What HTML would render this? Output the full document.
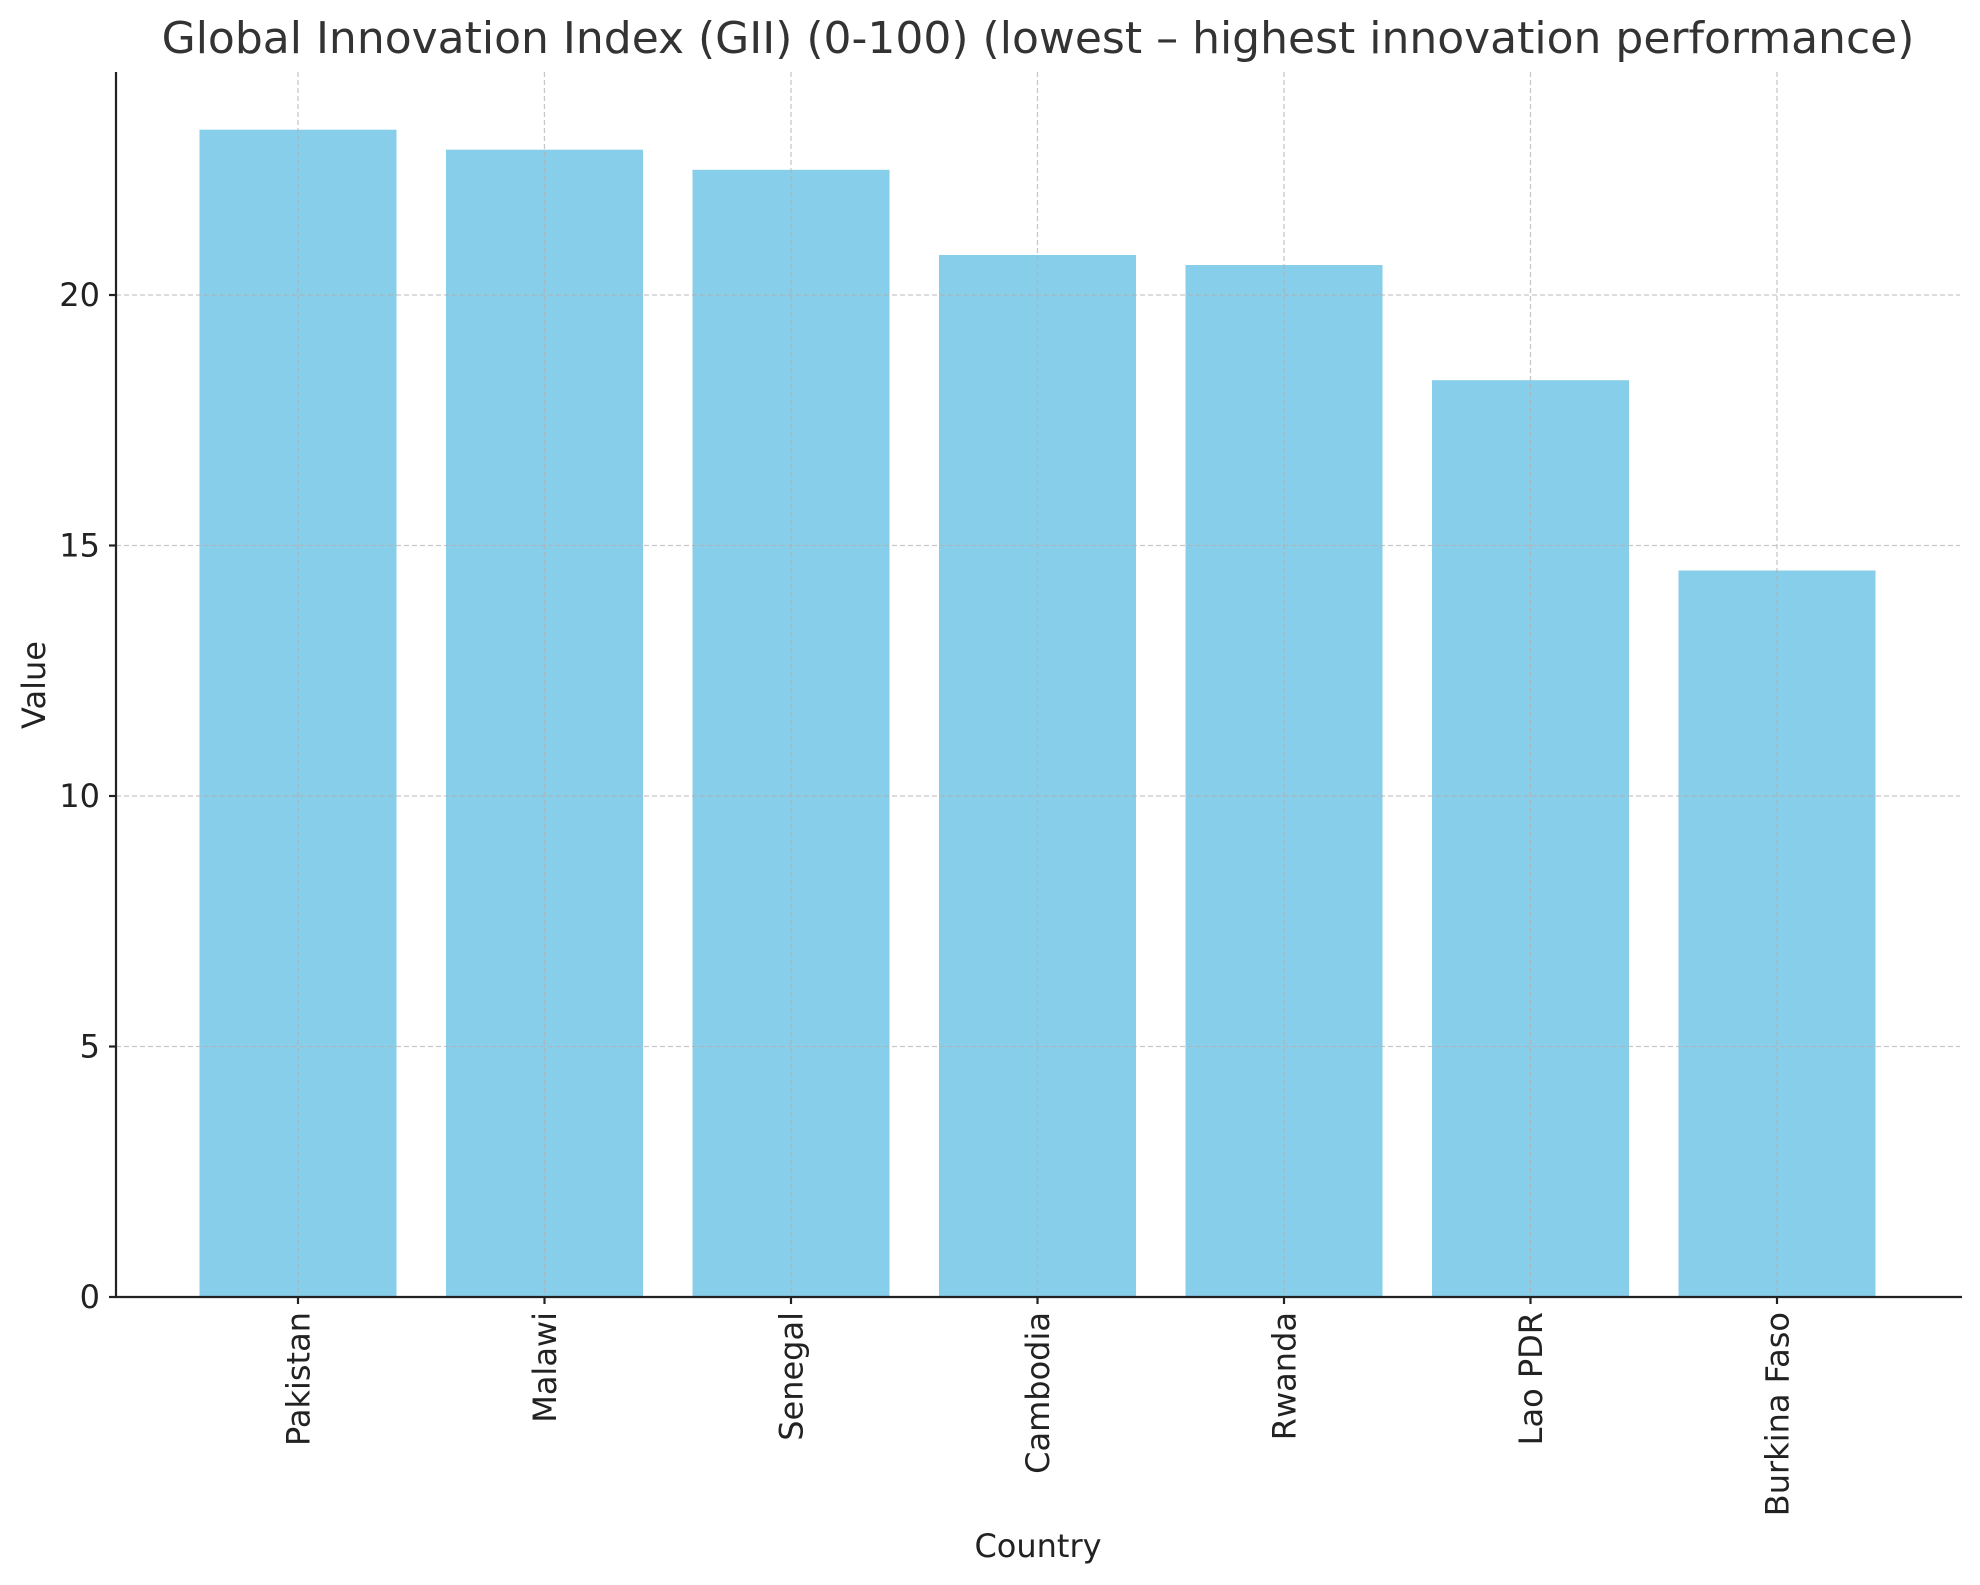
<!DOCTYPE html>
<html><head><meta charset="utf-8"><style>html,body{margin:0;padding:0;background:#fff}</style></head>
<body>
<svg width="1980" height="1580" xmlns="http://www.w3.org/2000/svg" font-family="DejaVu Sans, Liberation Sans, sans-serif">
<rect width="1980" height="1580" fill="#fff"/>
<g fill="#87ceeb">
<rect x="199.5" y="129.7" width="197" height="1167.3"/>
<rect x="446" y="149.7" width="197" height="1147.3"/>
<rect x="692.5" y="169.8" width="197" height="1127.2"/>
<rect x="939" y="255" width="197" height="1042"/>
<rect x="1185.5" y="265" width="197" height="1032"/>
<rect x="1432" y="380.2" width="197" height="916.8"/>
<rect x="1678.5" y="570.5" width="197" height="726.5"/>
</g>
<g stroke="#b0b0b0" stroke-opacity="0.7" stroke-width="1.3" stroke-dasharray="5,3">
<line x1="116" x2="1960" y1="1046.5" y2="1046.5"/>
<line x1="116" x2="1960" y1="796" y2="796"/>
<line x1="116" x2="1960" y1="545.5" y2="545.5"/>
<line x1="116" x2="1960" y1="295" y2="295"/>
<line x1="298" x2="298" y1="72" y2="1297"/>
<line x1="544.5" x2="544.5" y1="72" y2="1297"/>
<line x1="791" x2="791" y1="72" y2="1297"/>
<line x1="1037.5" x2="1037.5" y1="72" y2="1297"/>
<line x1="1284" x2="1284" y1="72" y2="1297"/>
<line x1="1530.5" x2="1530.5" y1="72" y2="1297"/>
<line x1="1777" x2="1777" y1="72" y2="1297"/>
</g>
<g stroke="#222" stroke-width="2.2">
<line x1="116" y1="72" x2="116" y2="1298"/>
<line x1="115" y1="1297" x2="1962" y2="1297"/>
<line x1="109" x2="116" y1="1297" y2="1297"/>
<line x1="109" x2="116" y1="1046.5" y2="1046.5"/>
<line x1="109" x2="116" y1="796" y2="796"/>
<line x1="109" x2="116" y1="545.5" y2="545.5"/>
<line x1="109" x2="116" y1="295" y2="295"/>
<line x1="298" x2="298" y1="1297" y2="1304"/>
<line x1="544.5" x2="544.5" y1="1297" y2="1304"/>
<line x1="791" x2="791" y1="1297" y2="1304"/>
<line x1="1037.5" x2="1037.5" y1="1297" y2="1304"/>
<line x1="1284" x2="1284" y1="1297" y2="1304"/>
<line x1="1530.5" x2="1530.5" y1="1297" y2="1304"/>
<line x1="1777" x2="1777" y1="1297" y2="1304"/>
</g>
<g fill="#222" font-size="32" text-anchor="end">
<text x="100" y="1308">0</text>
<text x="100" y="1057.5">5</text>
<text x="100" y="807">10</text>
<text x="100" y="556.5">15</text>
<text x="100" y="306">20</text>
</g>
<g fill="#222" font-size="32" text-anchor="end">
<text transform="translate(309.5,1312) rotate(-90)">Pakistan</text>
<text transform="translate(556,1312) rotate(-90)">Malawi</text>
<text transform="translate(802.5,1312) rotate(-90)">Senegal</text>
<text transform="translate(1049,1312) rotate(-90)">Cambodia</text>
<text transform="translate(1295.5,1312) rotate(-90)">Rwanda</text>
<text transform="translate(1542,1312) rotate(-90)">Lao PDR</text>
<text transform="translate(1788.5,1312) rotate(-90)">Burkina Faso</text>
</g>
<text x="1038" y="1557" font-size="32" fill="#222" text-anchor="middle">Country</text>
<text transform="translate(45,685) rotate(-90)" font-size="32" fill="#222" text-anchor="middle">Value</text>
<text x="1038" y="53" font-size="44" fill="#333" text-anchor="middle">Global Innovation Index (GII) (0-100) (lowest – highest innovation performance)</text>
</svg>
</body></html>
